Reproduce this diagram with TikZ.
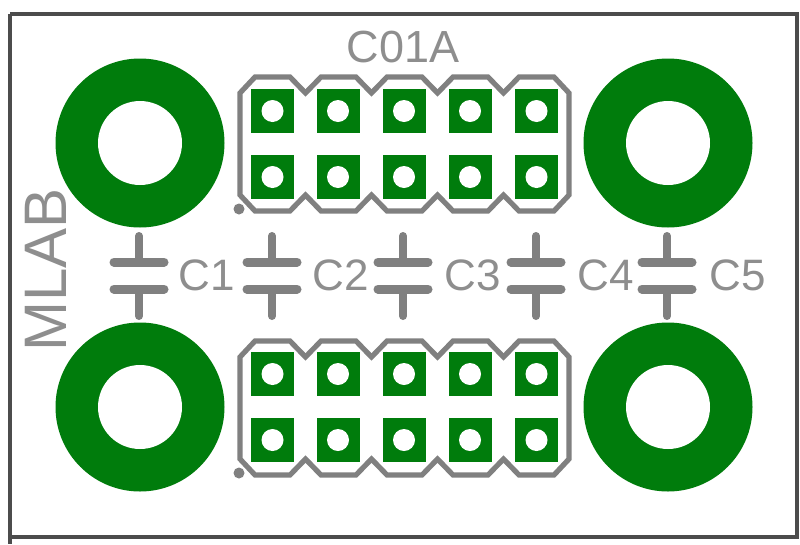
\documentclass[tikz,border=0pt]{standalone}
\usepackage{fontspec}
\setmainfont{Liberation Sans}
\definecolor{pcbgreen}{HTML}{007C0C}
\definecolor{silk}{HTML}{808080}
\definecolor{labelgray}{HTML}{8E8E8E}
\tikzset{
  ring/.style={circle,fill=pcbgreen,minimum size=169pt,inner sep=0pt},
  ringhole/.style={circle,fill=white,minimum size=84pt,inner sep=0pt},
  padbox/.style={rectangle,fill=pcbgreen,minimum width=43pt,minimum height=44pt,inner sep=0pt},
  padhole/.style={circle,fill=white,minimum size=22pt,inner sep=0pt},
  outline/.style={draw=silk,line width=5.2pt,line join=miter},
  dotmark/.style={circle,fill=silk,minimum size=11pt,inner sep=0pt},
  plate/.style={draw=silk,line width=9pt,line cap=round},
  stem/.style={draw=silk,line width=8pt,line cap=round},
  lbl/.style={text=labelgray,inner sep=0pt,font=\fontsize{44}{44}\selectfont},
}
\begin{document}
\begin{tikzpicture}[x=1pt,y=-1pt]
\useasboundingbox (0,0) rectangle (800,544);
\fill[white] (0,0) rectangle (800,544);
\draw[draw=black!70,line width=3.2pt] (10,14) -- (10,544);
\draw[draw=black!70,line width=3.2pt] (10,14) -- (797,14) -- (797,537) -- (10,537);
% mounting rings
\foreach \n/\x/\y in {a/140/143,b/668/143,c/140/407,d/668/407}{
  \node[ring] (r\n) at (\x,\y) {};
  \node[ringhole] (h\n) at (\x,\y) {};
}
% connector outlines
\foreach \o in {0,264}{
  \begin{scope}[yshift=-\o pt]
  \draw[outline] (240,93) -- (255,77)
    -- (290,77) -- (305.5,93) -- (321,77)
    -- (356,77) -- (371.5,93) -- (387,77)
    -- (422,77) -- (437.5,93) -- (453,77)
    -- (488,77) -- (503.5,93) -- (519,77)
    -- (554,77) -- (569,93) -- (569,195) -- (554,211)
    -- (519,211) -- (503.5,195) -- (488,211)
    -- (453,211) -- (437.5,195) -- (422,211)
    -- (387,211) -- (371.5,195) -- (356,211)
    -- (321,211) -- (305.5,195) -- (290,211)
    -- (255,211) -- (240,195) -- cycle;
  \node[dotmark] (dot\o) at (239,209) {};
  \end{scope}
}
% pads
\foreach \y in {111,177,374,440}{
  \foreach \x in {272.5,338,404,470,536.5}{
    \node[padbox] at (\x,\y) {};
    \node[padhole] at (\x,\y) {};
  }
}
% capacitors
\foreach \n/\x in {1/139,2/272,3/403,4/536,5/667}{
  \coordinate (t\n) at (\x,236);
  \coordinate (u\n) at (\x,262);
  \coordinate (v\n) at (\x,289);
  \coordinate (w\n) at (\x,316);
  \draw[stem] (t\n) -- (u\n);
  \draw[stem] (v\n) -- (w\n);
  \draw[plate] ([xshift=-25pt]u\n) -- ([xshift=25pt]u\n);
  \draw[plate] ([xshift=-25pt]v\n) -- ([xshift=25pt]v\n);
}
% labels
\node[lbl,font=\fontsize{45}{45}\selectfont] (c01a) at (403,47) {C01A};
\node[lbl] (l1) at (207,275) {C1};
\node[lbl] (l2) at (341,275) {C2};
\node[lbl] (l3) at (473,275) {C3};
\node[lbl] (l4) at (606,275) {C4};
\node[lbl] (l5) at (738,275) {C5};
\node[lbl,rotate=90,font=\fontsize{60}{60}\selectfont] (mlab) at (46,270) {MLAB};
\end{tikzpicture}
\end{document}
